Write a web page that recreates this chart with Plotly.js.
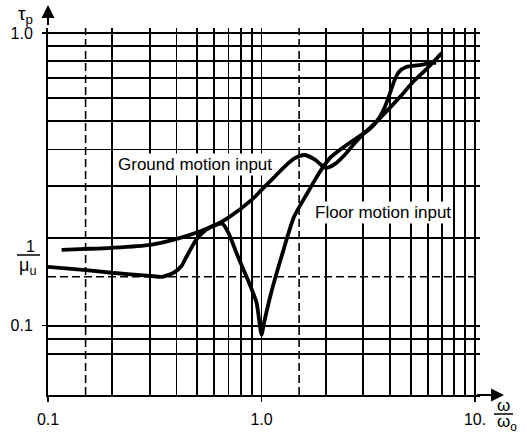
<!DOCTYPE html>
<html><head><meta charset="utf-8">
<script src="https://cdn.plot.ly/plotly-3.0.1.min.js"></script>
<style>html,body{margin:0;padding:0;background:#fff}#chart{width:527px;height:435px}</style>
</head><body><div id="chart"></div>
<script>
// Ground motion input curve (omega/omega0, tau_p)
const groundX = [0.1158, 0.1507, 0.198, 0.3016, 0.401, 0.494, 0.610, 0.700, 0.899, 1.0, 1.15, 1.28, 1.42, 1.59, 1.78, 2.0, 2.21, 2.45, 2.71, 3.0, 3.37, 3.91, 4.49, 5.12, 6.0, 7.0];
const groundY = [0.1817, 0.183, 0.1846, 0.189, 0.198, 0.2077, 0.221, 0.234, 0.269, 0.291, 0.3225, 0.349, 0.372, 0.383, 0.369, 0.346, 0.357, 0.383, 0.418, 0.452, 0.489, 0.546, 0.609, 0.680, 0.760, 0.855];
// Floor motion input curve
const floorX = [0.1, 0.1507, 0.198, 0.3016, 0.342, 0.388, 0.422, 0.445, 0.494, 0.550, 0.610, 0.656, 0.700, 0.776, 0.863, 0.948, 1.0, 1.03, 1.11, 1.24, 1.42, 1.64, 1.78, 1.93, 2.10, 2.33, 2.58, 2.85, 3.18, 3.48, 3.78, 4.0, 4.20, 4.40, 4.76, 5.58, 6.25, 6.58];
const floorY = [0.159, 0.155, 0.1517, 0.148, 0.147, 0.1517, 0.160, 0.172, 0.1965, 0.213, 0.221, 0.223, 0.2077, 0.172, 0.1435, 0.1198, 0.0932, 0.1032, 0.1297, 0.172, 0.2355, 0.284, 0.315, 0.346, 0.375, 0.399, 0.421, 0.442, 0.467, 0.501, 0.559, 0.624, 0.691, 0.736, 0.765, 0.778, 0.790, 0.790];
// reference level 1/mu_u
const muInv = 0.147;
// axis ticks and grid
const xTickVals = [0.1, 1, 10];
const xTickText = ['0.1', '1.0', '10.'];
const yTickVals = [0.1, 1];
const yTickText = ['0.1', '1.0'];
const xGrid = [0.2, 0.3, 0.4, 0.5, 0.6, 0.7, 0.8, 0.9, 2, 3, 4, 5, 6, 7, 8, 9];
const xDashed = [0.15, 1.5];
const yGrid = [0.08, 0.09, 0.2, 0.3, 0.4, 0.5, 0.6, 0.7, 0.8, 0.9];
const xRange = [0.1, 10.55];
const yRange = [0.058, 1.04];

const FONT = 'Liberation Sans, Arial, sans-serif';
const L = 48, R = 480, T = 28, B = 395;
function P(px, py) { return {x: (px - L) / (R - L), y: (B - py) / (B - T)}; }

const traces = [];
xDashed.forEach(v => traces.push({x: [v, v], y: yRange, mode: 'lines', line: {color: '#000', width: 1.6, dash: '8px,4px'}, hoverinfo: 'skip'}));
traces.push({x: xRange, y: [muInv, muInv], mode: 'lines', line: {color: '#000', width: 1.6, dash: '8px,4px'}, hoverinfo: 'skip'});
traces.push({x: groundX, y: groundY, mode: 'lines', name: 'Ground motion input', line: {color: '#000', width: 3.8, shape: 'spline', smoothing: 0.7}});
traces.push({x: floorX, y: floorY, mode: 'lines', name: 'Floor motion input', line: {color: '#000', width: 3.8, shape: 'spline', smoothing: 0.6}});

function txt(px, py, text, size, extra) {
  const p = P(px, py);
  return Object.assign({xref: 'paper', yref: 'paper', x: p.x, y: p.y, text: text, showarrow: false,
    xanchor: 'center', yanchor: 'middle', font: {family: FONT, size: size, color: '#000'}}, extra || {});
}
function arrow(px, py, ax, ay) {
  const p = P(px, py);
  return {xref: 'paper', yref: 'paper', x: p.x, y: p.y, ax: ax, ay: ay, axref: 'pixel', ayref: 'pixel', text: ' ',
    showarrow: true, arrowhead: 2, arrowsize: 1.3, arrowwidth: 2, arrowcolor: '#000'};
}
const annotations = [
  txt(195, 165, 'Ground motion input', 17, {bgcolor: '#fff', borderpad: 1}),
  txt(383, 212, 'Floor motion input', 17, {bgcolor: '#fff', borderpad: 1}),
  txt(25, 15, 'τ<sub>p</sub>', 19),
  txt(30, 246, '1', 16),
  txt(27, 266, 'μ<sub>u</sub>', 18),
  txt(503, 406, 'ω', 17),
  txt(507, 423, 'ω<sub>o</sub>', 17),
  arrow(48, 5, 0, 30),
  arrow(504, 395, -30, 0)
];
function bar(x0, x1, py) {
  const a = P(x0, py), b = P(x1, py);
  return {type: 'line', xref: 'paper', yref: 'paper', x0: a.x, x1: b.x, y0: a.y, y1: b.y, line: {color: '#000', width: 1.5}};
}
const shapes = [bar(17, 40, 255), bar(494, 513, 414)];

const layout = {
  width: 527, height: 435,
  margin: {l: L, r: 527 - R, t: T, b: 435 - B, pad: 0},
  paper_bgcolor: '#fff', plot_bgcolor: '#fff',
  showlegend: false, hovermode: false,
  xaxis: {type: 'log', range: xRange.map(Math.log10), tickmode: 'array', tickvals: xTickVals, ticktext: xTickText,
    ticks: 'outside', ticklen: 5, tickwidth: 1.5, tickcolor: '#000', ticklabelstandoff: 4,
    showgrid: true, gridcolor: '#000', gridwidth: 1.8, showline: true, linecolor: '#000', linewidth: 2, zeroline: false,
    tickfont: {family: FONT, size: 16, color: '#000'},
    minor: {tickmode: 'array', tickvals: xGrid, showgrid: true, gridcolor: '#000', gridwidth: 1.8, ticks: ''}},
  yaxis: {type: 'log', range: yRange.map(Math.log10), tickmode: 'array', tickvals: yTickVals, ticktext: yTickText,
    ticks: 'outside', ticklen: 4, tickwidth: 1.5, tickcolor: '#000', ticklabelstandoff: 6,
    showgrid: true, gridcolor: '#000', gridwidth: 1.8, showline: true, linecolor: '#000', linewidth: 2, zeroline: false,
    tickfont: {family: FONT, size: 16, color: '#000'},
    minor: {tickmode: 'array', tickvals: yGrid, showgrid: true, gridcolor: '#000', gridwidth: 1.8, ticks: ''}},
  annotations: annotations,
  shapes: shapes
};
Plotly.newPlot('chart', traces, layout, {displayModeBar: false, staticPlot: true});
</script></body></html>
